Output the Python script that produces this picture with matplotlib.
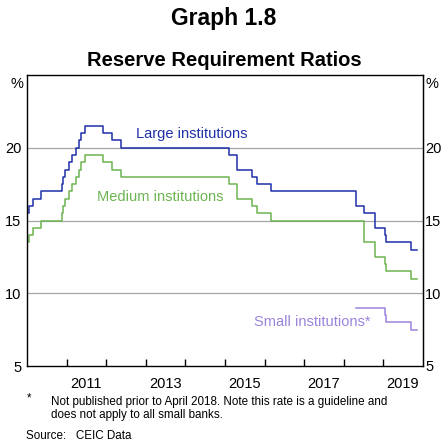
import numpy as np
import pandas as pd
import matplotlib
matplotlib.use('Agg')
import matplotlib.pyplot as plt
import matplotlib.dates as mdates

plt.rcParams['font.family'] = ['Liberation Sans', 'DejaVu Sans']

# step change dates (effective dates) and the ratio that applies from then on
large_dates = ['2010-01-01', '2010-01-18', '2010-02-25', '2010-05-10', '2010-11-16',
               '2010-11-29', '2010-12-20', '2011-01-20', '2011-02-24', '2011-03-25',
               '2011-04-21', '2011-05-18', '2011-06-20', '2011-12-05', '2012-02-24',
               '2012-05-18', '2015-02-05', '2015-04-20', '2015-09-06', '2015-10-24',
               '2016-03-01', '2018-04-25', '2018-07-05', '2018-10-15', '2019-01-15',
               '2019-01-25', '2019-09-16', '2019-11-08']
large_vals = [15.5, 16.0, 16.5, 17.0, 17.5,
              18.0, 18.5, 19.0, 19.5, 20.0,
              20.5, 21.0, 21.5, 21.0, 20.5,
              20.0, 19.5, 18.5, 18.0, 17.5,
              17.0, 16.0, 15.5, 14.5, 14.0,
              13.5, 13.0, 13.0]

medium_dates = ['2010-01-01', '2010-01-18', '2010-02-25', '2010-05-10', '2010-11-16',
                '2010-11-29', '2010-12-20', '2011-01-20', '2011-02-24', '2011-03-25',
                '2011-04-21', '2011-05-18', '2011-06-20', '2011-12-05', '2012-02-24',
                '2012-05-18', '2015-02-05', '2015-04-20', '2015-09-06', '2015-10-24',
                '2016-03-01', '2018-07-05', '2018-10-15', '2019-01-15', '2019-01-25',
                '2019-09-16', '2019-11-08']
medium_vals = [13.5, 14.0, 14.5, 15.0, 15.5,
               16.0, 16.5, 17.0, 17.5, 18.0,
               18.5, 19.0, 19.5, 19.0, 18.5,
               18.0, 17.5, 16.5, 16.0, 15.5,
               15.0, 13.5, 12.5, 12.0, 11.5,
               11.0, 11.0]

small_dates = ['2018-04-25', '2019-01-15', '2019-01-25', '2019-09-16', '2019-11-08']
small_vals = [9.0, 8.5, 8.0, 7.5, 7.5]

yticks = [5, 10, 15, 20]

blue = '#1f2fa8'
green = '#6cb450'
purple = '#9c84dc'
fs = 10.5    # tick and series labels
note_fs = 8.4

fig = plt.figure(figsize=(4.48, 4.42), dpi=100)
ax = fig.add_axes([27 / 448, 1 - 366 / 442, 396 / 448, 291 / 442])

ax.plot(pd.to_datetime(large_dates), large_vals, drawstyle='steps-post', color=blue, lw=1.1)
ax.plot(pd.to_datetime(medium_dates), medium_vals, drawstyle='steps-post', color=green, lw=1.1)
ax.plot(pd.to_datetime(small_dates), small_vals, drawstyle='steps-post', color=purple, lw=1.1)

ax.set_xlim(pd.Timestamp('2010-01-01'), pd.Timestamp('2020-01-01'))
ax.set_ylim(5, 25)

for y in yticks[1:]:
    ax.axhline(y, color='#a6a6a6', lw=0.9, zorder=0)

# y labels: left via the axis, right via a secondary axis (different padding)
ax.set_yticks(yticks)
ax.set_yticklabels([str(v) for v in yticks])
ax.tick_params(axis='y', length=0, labelsize=fs, pad=4)
sec = ax.secondary_yaxis('right')
sec.set_yticks(yticks)
sec.set_yticklabels([str(v) for v in yticks])
sec.tick_params(axis='y', length=0, labelsize=fs, pad=1.5)
ax.text(-0.008, 0.97, '%', transform=ax.transAxes, ha='right', va='center', fontsize=fs)
ax.text(1.006, 0.97, '%', transform=ax.transAxes, ha='left', va='center', fontsize=fs)

# year boundary ticks, labels centred mid-year on odd years
ax.set_xticks([pd.Timestamp('%d-01-01' % yr) for yr in range(2011, 2020)], minor=True)
ax.set_xticks([pd.Timestamp('%d-07-01' % yr) for yr in range(2011, 2020, 2)])
ax.xaxis.set_major_formatter(mdates.DateFormatter('%Y'))
ax.tick_params(axis='x', which='major', length=0, labelsize=fs, pad=8)
ax.tick_params(axis='x', which='minor', direction='in', length=5, width=1, color='black')

for s in ax.spines.values():
    s.set_linewidth(1.0)

ax.text(pd.Timestamp('2012-09-30'), 20.95, 'Large institutions', color=blue,
        fontsize=fs, ha='left', va='center')
ax.text(pd.Timestamp('2011-10-08'), 16.6, 'Medium institutions', color=green,
        fontsize=fs, ha='left', va='center')
ax.text(pd.Timestamp('2015-09-24'), 8.0, 'Small institutions*', color=purple,
        fontsize=fs, ha='left', va='center')

fig.text(0.5, 1 - 19 / 442, 'Graph 1.8', ha='center', va='center', fontsize=16.5, fontweight='bold')
fig.text(0.5, 1 - 61 / 442, 'Reserve Requirement Ratios', ha='center', va='center',
         fontsize=14.5, fontweight='bold')

fig.text(27 / 448, 1 - 398 / 442, '*', ha='left', va='center', fontsize=note_fs)
fig.text(51 / 448, 1 - 402 / 442, 'Not published prior to April 2018. Note this rate is a guideline and',
         ha='left', va='center', fontsize=note_fs)
fig.text(51 / 448, 1 - 415 / 442, 'does not apply to all small banks.',
         ha='left', va='center', fontsize=note_fs)
fig.text(26 / 448, 1 - 436 / 442, 'Source:   CEIC Data', ha='left', va='center', fontsize=note_fs)

fig.savefig('out.png', dpi=100)
